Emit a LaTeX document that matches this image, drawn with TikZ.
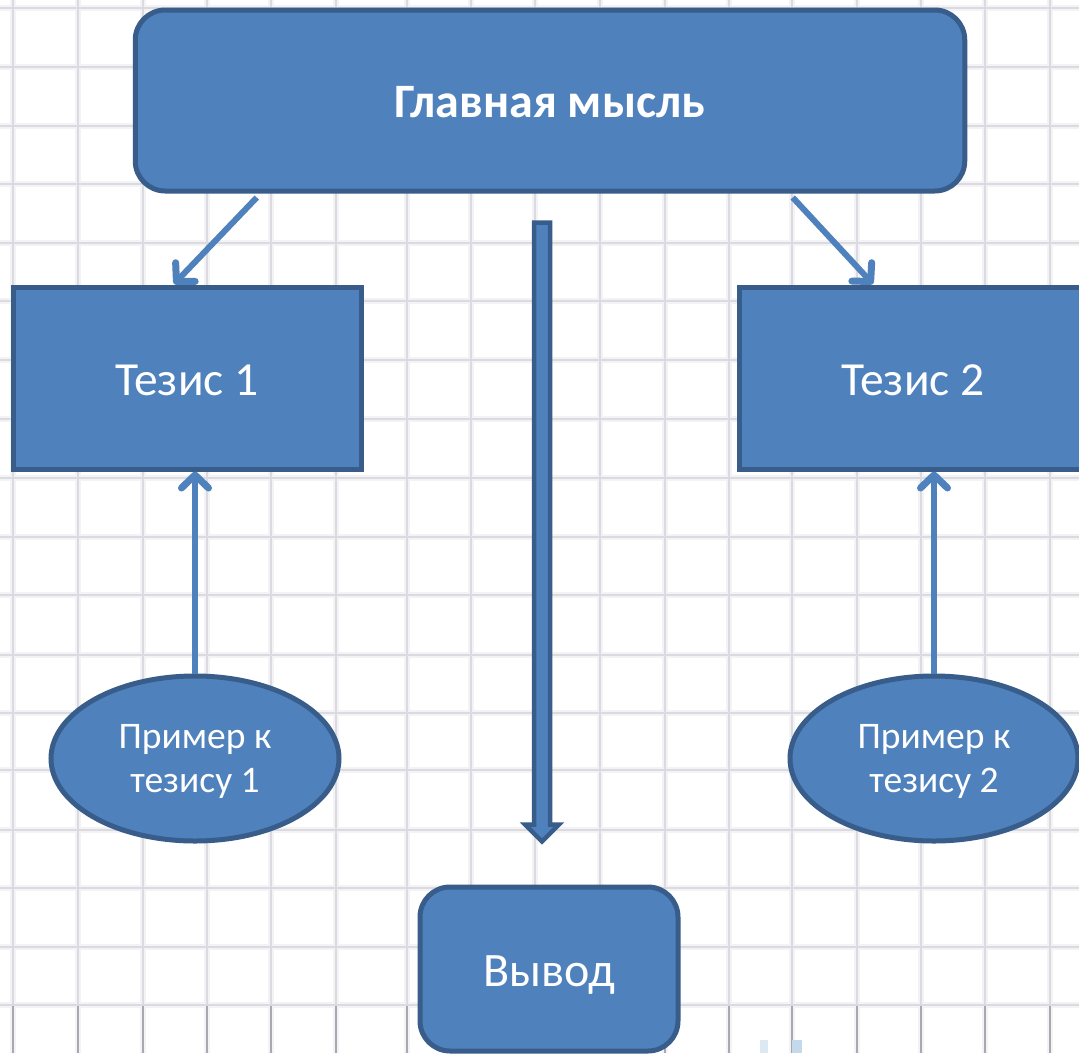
\documentclass[tikz,border=0pt]{standalone}
\usepackage{fontspec}
\setmainfont{Carlito}
\usetikzlibrary{arrows.meta,shapes.geometric,calc}
\definecolor{boxfill}{HTML}{4F81BD}
\definecolor{boxline}{HTML}{385D8A}
\definecolor{gridsoft}{HTML}{F3F3F6}
\definecolor{gridline}{HTML}{DADAE0}
\definecolor{griddark}{HTML}{A8A8B0}
\definecolor{smudgea}{HTML}{DCE8F2}
\definecolor{smudgeb}{HTML}{C4DAEC}
\newcommand{\lowertext}[2]{\raisebox{-#1pt}[\height][\depth]{#2}}
\tikzset{
  x=1pt,y=-1pt,
  shapebase/.style={draw=boxline,fill=boxfill,line width=5pt,text=white,inner sep=0pt,align=center},
  mainbox/.style={shapebase,rounded corners=30pt,minimum width=829.5pt,minimum height=181pt,font=\fontsize{48}{54}\selectfont\bfseries},
  thesisbox/.style={shapebase,minimum width=348pt,minimum height=182pt,font=\fontsize{47.5}{54}\selectfont},
  examplebox/.style={shapebase,ellipse,minimum width=288pt,minimum height=165pt,font=\fontsize{37.5}{44}\selectfont},
  endbox/.style={shapebase,rounded corners=30pt,minimum width=258pt,minimum height=164pt,font=\fontsize{48}{54}\selectfont},
  thinarrow/.style={draw=boxfill,line width=6pt,-{Straight Barb[round,length=13pt,width=27pt,line width=7pt]}},
  softgrid/.style={draw=gridsoft,line width=6pt},
  hardgrid/.style={draw=gridline,line width=1.6pt},
  lowgrid/.style={draw=griddark,line width=1.4pt},
  blockarrow/.style={draw=boxline,fill=boxfill,line width=4.5pt,line join=miter}
}
\begin{document}
\begin{tikzpicture}
\useasboundingbox (0,0) rectangle (1079,1053);
\fill[white] (0,0) rectangle (1079,1053);
% grid paper
\foreach \gx in {13,78,143,207,271,336,407,471,535,600,665,729,792,857,921,985,1050}{
  \draw[softgrid] (\gx,0) -- (\gx,1053);
}
\foreach \gy in {8,67,126,184,243,301,360,419,478,537,595,655,713,770,830,888,947,1005}{
  \draw[softgrid] (0,\gy) -- (1079,\gy);
}
\foreach \gx in {13,78,143,207,271,336,407,471,535,600,665,729,792,857,921,985,1050}{
  \draw[hardgrid] (\gx,0) -- (\gx,1005);
  \draw[lowgrid] (\gx,1005) -- (\gx,1053);
}
\foreach \gy in {8,67,126,184,243,301,360,419,478,537,595,655,713,770,830,888,947,1005}{
  \draw[hardgrid] (0,\gy) -- (1079,\gy);
}
% faint smudge at the bottom edge
\fill[smudgea] (760,1040) rectangle (768,1053);
\fill[smudgeb] (792,1040) rectangle (802,1053);
% shapes
\node[mainbox] (main) at (550,100.5) {\lowertext{2}{Главная мысль}};
\node[thesisbox] (t1) at (187,378) {\lowertext{2}{Тезис 1}};
\node[thesisbox] (t2) at (913,378) {\lowertext{2}{Тезис 2}};
\node[examplebox] (e1) at (195,758.5) {\lowertext{3}{Пример к}\\\lowertext{3}{тезису 1}};
\node[examplebox] (e2) at (934,758.5) {\lowertext{3}{Пример к}\\\lowertext{3}{тезису 2}};
\node[endbox] (end) at (549,969) {\lowertext{6}{Вывод}};
% connectors
\coordinate (m1) at ($(main.south west)+(124,4)$);
\coordinate (m2) at ($(main.south west)+(660,4)$);
\coordinate (t1top) at ($(t1.north)+(-13,-0.5)$);
\coordinate (t2top) at ($(t2.north)+(-40,-0.5)$);
\draw[thinarrow] (m1) -- (t1top);
\draw[thinarrow] (m2) -- (t2top);
\draw[thinarrow] (e1.north) -- (e1.north |- t1.south);
\draw[thinarrow] (e2.north) -- (e2.north |- t2.south);
% block arrow from the main box towards the conclusion
\coordinate (bstart) at ($(main.south)+(-8,29)$);
\coordinate (btip) at ($(end.north)+(-7,-43)$);
\path[blockarrow] ($(bstart)+(-8,0)$) -- ($(bstart)+(8,0)$) -- ($(btip)+(8,-17)$) -- ($(btip)+(17,-17)$) -- (btip) -- ($(btip)+(-17,-17)$) -- ($(btip)+(-8,-17)$) -- cycle;
\end{tikzpicture}
\end{document}
